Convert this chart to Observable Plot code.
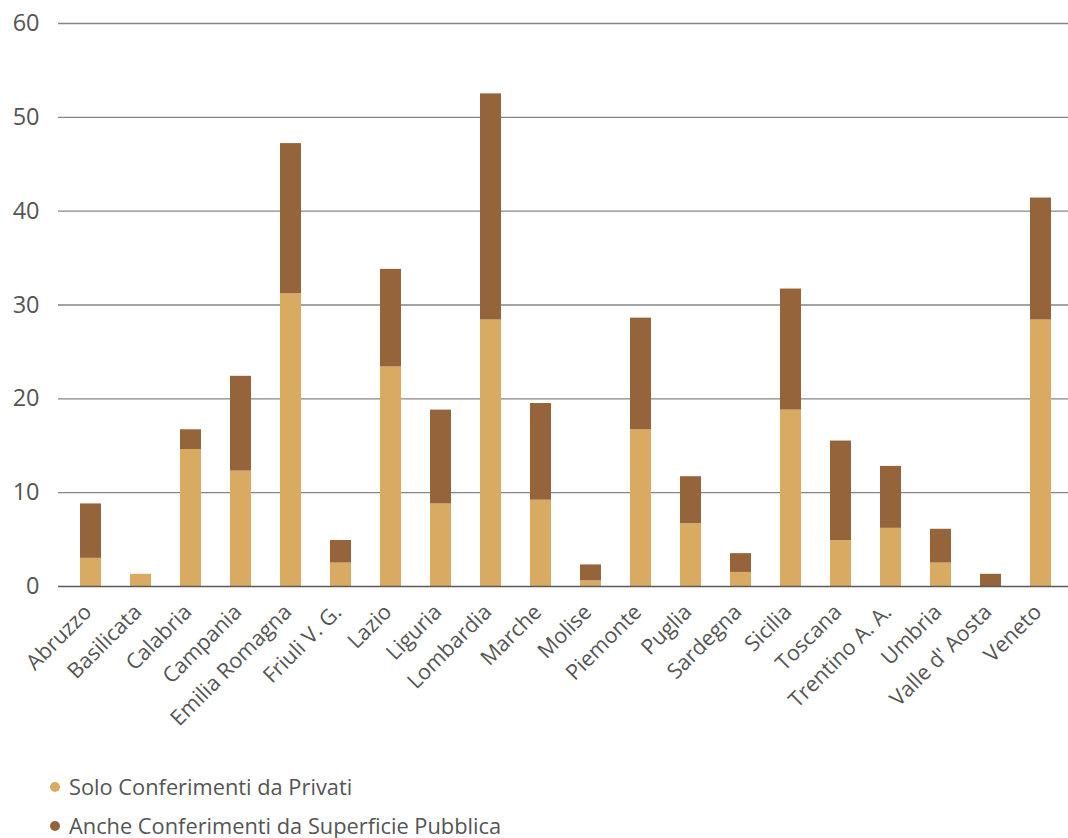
<!DOCTYPE html>
<html>
<head>
<meta charset="utf-8">
<script src="https://cdn.jsdelivr.net/npm/d3@7"></script>
<script src="https://cdn.jsdelivr.net/npm/@observablehq/plot@0.6"></script>
<style>
  body { margin: 0; background: #fff; font-family: "Open Sans", sans-serif; }
  #legend { padding: 17px 0 0 50px; color: #555; font-size: 21.8px; }
  #legend .item { height: 39px; line-height: 39px; display: flex; align-items: center; }
  #legend .dot { width: 10px; height: 10px; border-radius: 50%; margin-right: 9px; flex: none; }
</style>
</head>
<body>
<div id="chart"></div>
<div id="legend"></div>
<script>
const regions = ["Abruzzo","Basilicata","Calabria","Campania","Emilia Romagna","Friuli V. G.","Lazio","Liguria","Lombardia","Marche","Molise","Piemonte","Puglia","Sardegna","Sicilia","Toscana","Trentino A. A.","Umbria","Valle d' Aosta","Veneto"];
const privati =    [3.0, 1.3, 14.6, 12.3, 31.2, 2.5, 23.4, 8.8, 28.4, 9.2, 0.6, 16.7, 6.7, 1.5, 18.8, 4.9, 6.2, 2.5, 0.0, 28.4];
const superficie = [5.8, 0.0, 2.1, 10.1, 16.0, 2.4, 10.4, 10.0, 24.1, 10.3, 1.7, 11.9, 5.0, 2.0, 12.9, 10.6, 6.6, 3.6, 1.3, 13.0];
const series = ["Solo Conferimenti da Privati", "Anche Conferimenti da Superficie Pubblica"];
const colors = ["#D8AA62", "#95643A"];
const yTicks = [0, 10, 20, 30, 40, 50, 60];

const data = regions.flatMap((r, i) => [
  {region: r, serie: series[0], value: privati[i]},
  {region: r, serie: series[1], value: superficie[i]}
]);

const chart = Plot.plot({
  width: 1068,
  height: 750,
  marginLeft: 58,
  marginRight: 0,
  marginTop: 23,
  marginBottom: 164,
  style: {fontFamily: "'Open Sans', sans-serif", color: "#555", background: "#fff"},
  x: {domain: regions, paddingInner: 0.582, paddingOuter: 0.359, align: 0.556, label: null},
  y: {domain: [0, 60], label: null},
  color: {domain: series, range: colors},
  marks: [
    Plot.ruleY(yTicks.filter(d => d > 0), {stroke: "#858585", strokeWidth: 1.4}),
    Plot.barY(data, {x: "region", y: "value", fill: "serie"}),
    Plot.ruleY([0], {stroke: "#5a5a5a", strokeWidth: 1.4}),
    Plot.axisY({ticks: yTicks, tickSize: 0, tickPadding: 19, fontSize: 23.5, label: null, fill: "#555"}),
    Plot.axisX({tickRotate: -45, tickSize: 0, tickPadding: 22, dx: -3, fontSize: 21.5, label: null, fill: "#555"})
  ]
});
document.getElementById("chart").appendChild(chart);

const legend = document.getElementById("legend");
series.forEach((s, i) => {
  const item = document.createElement("div");
  item.className = "item";
  const dot = document.createElement("span");
  dot.className = "dot";
  dot.style.background = colors[i];
  const label = document.createElement("span");
  label.textContent = s;
  item.appendChild(dot);
  item.appendChild(label);
  legend.appendChild(item);
});
</script>
</body>
</html>
